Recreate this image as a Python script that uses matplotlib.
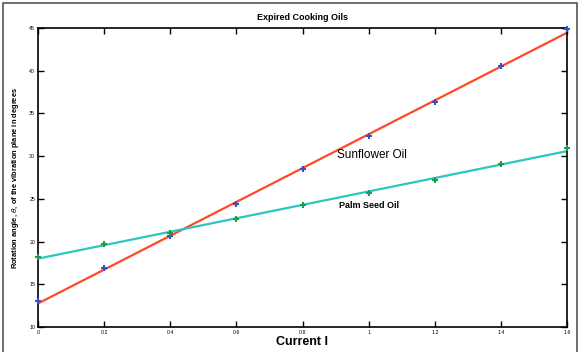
import numpy as np
import matplotlib
matplotlib.use("Agg")
from matplotlib import pyplot as plt
from matplotlib.patches import Rectangle

plt.rcParams['font.family'] = ['Liberation Sans', 'DejaVu Sans']

current = [0, 0.2, 0.4, 0.6, 0.8, 1.0, 1.2, 1.4, 1.6]
sunflower = [13.0, 16.9, 20.6, 24.4, 28.5, 32.3, 36.3, 40.5, 44.9]
palm_seed = [18.2, 19.7, 21.0, 22.6, 24.3, 25.7, 27.2, 29.05, 30.9]
x_ticks = [0, 0.2, 0.4, 0.6, 0.8, 1, 1.2, 1.4, 1.6]
x_tick_labels = ['0', '0.2', '0.4', '0.6', '0.8', '1', '1.2', '1.4', '1.6']
y_ticks = [10, 15, 20, 25, 30, 35, 40, 45]

fig = plt.figure(figsize=(5.87, 3.52), dpi=100)
ax = fig.add_axes([38 / 587, 1 - 327 / 352, 529 / 587, 299 / 352])

xs = np.array(current)
xfit = np.array([0, 1.6])

# least squares lines through each oil's readings
for vals, line_col, mark_col in [(sunflower, '#ff4a26', '#3c4fc0'),
                                 (palm_seed, '#2cc6c0', '#1f9a52')]:
    slope, icpt = np.polyfit(xs, vals, 1)
    ax.plot(xfit, slope * xfit + icpt, color=line_col, lw=1.6, zorder=2)
    ax.plot(xs, vals, '+', color=mark_col, ms=5, mew=1.5, zorder=3,
            clip_on=False)

ax.text(0.905, 30.1, 'Sunflower Oil', fontsize=8.5, va='center')
ax.text(0.91, 24.2, 'Palm Seed Oil', fontsize=6.5, fontweight='bold', va='center')

ax.set_xlim(0, 1.6)
ax.set_ylim(10, 45)
ax.set_xticks(x_ticks)
ax.set_xticklabels(x_tick_labels)
ax.set_yticks(y_ticks)
ax.tick_params(direction='in', top=True, right=True, length=4, width=1,
               labelsize=3.8, pad=2)
for s in ax.spines.values():
    s.set_linewidth(1.2)

ax.set_title('Expired Cooking Oils', fontsize=6.5, fontweight='bold', pad=6)
ax.set_xlabel('Current I', fontsize=9, fontweight='bold', labelpad=1)
ax.set_ylabel(r'Rotation angle, $\theta$, of the vibration plane in degrees',
              fontsize=5.4, fontweight='bold', labelpad=6)

# outer frame around the whole picture
fig.patches.append(Rectangle((3 / 587, -0.05), 574 / 587, 1 - 3 / 352 + 0.05,
                             transform=fig.transFigure, fill=False,
                             edgecolor='#555555', lw=1.2))

fig.savefig('out.png', dpi=100)
